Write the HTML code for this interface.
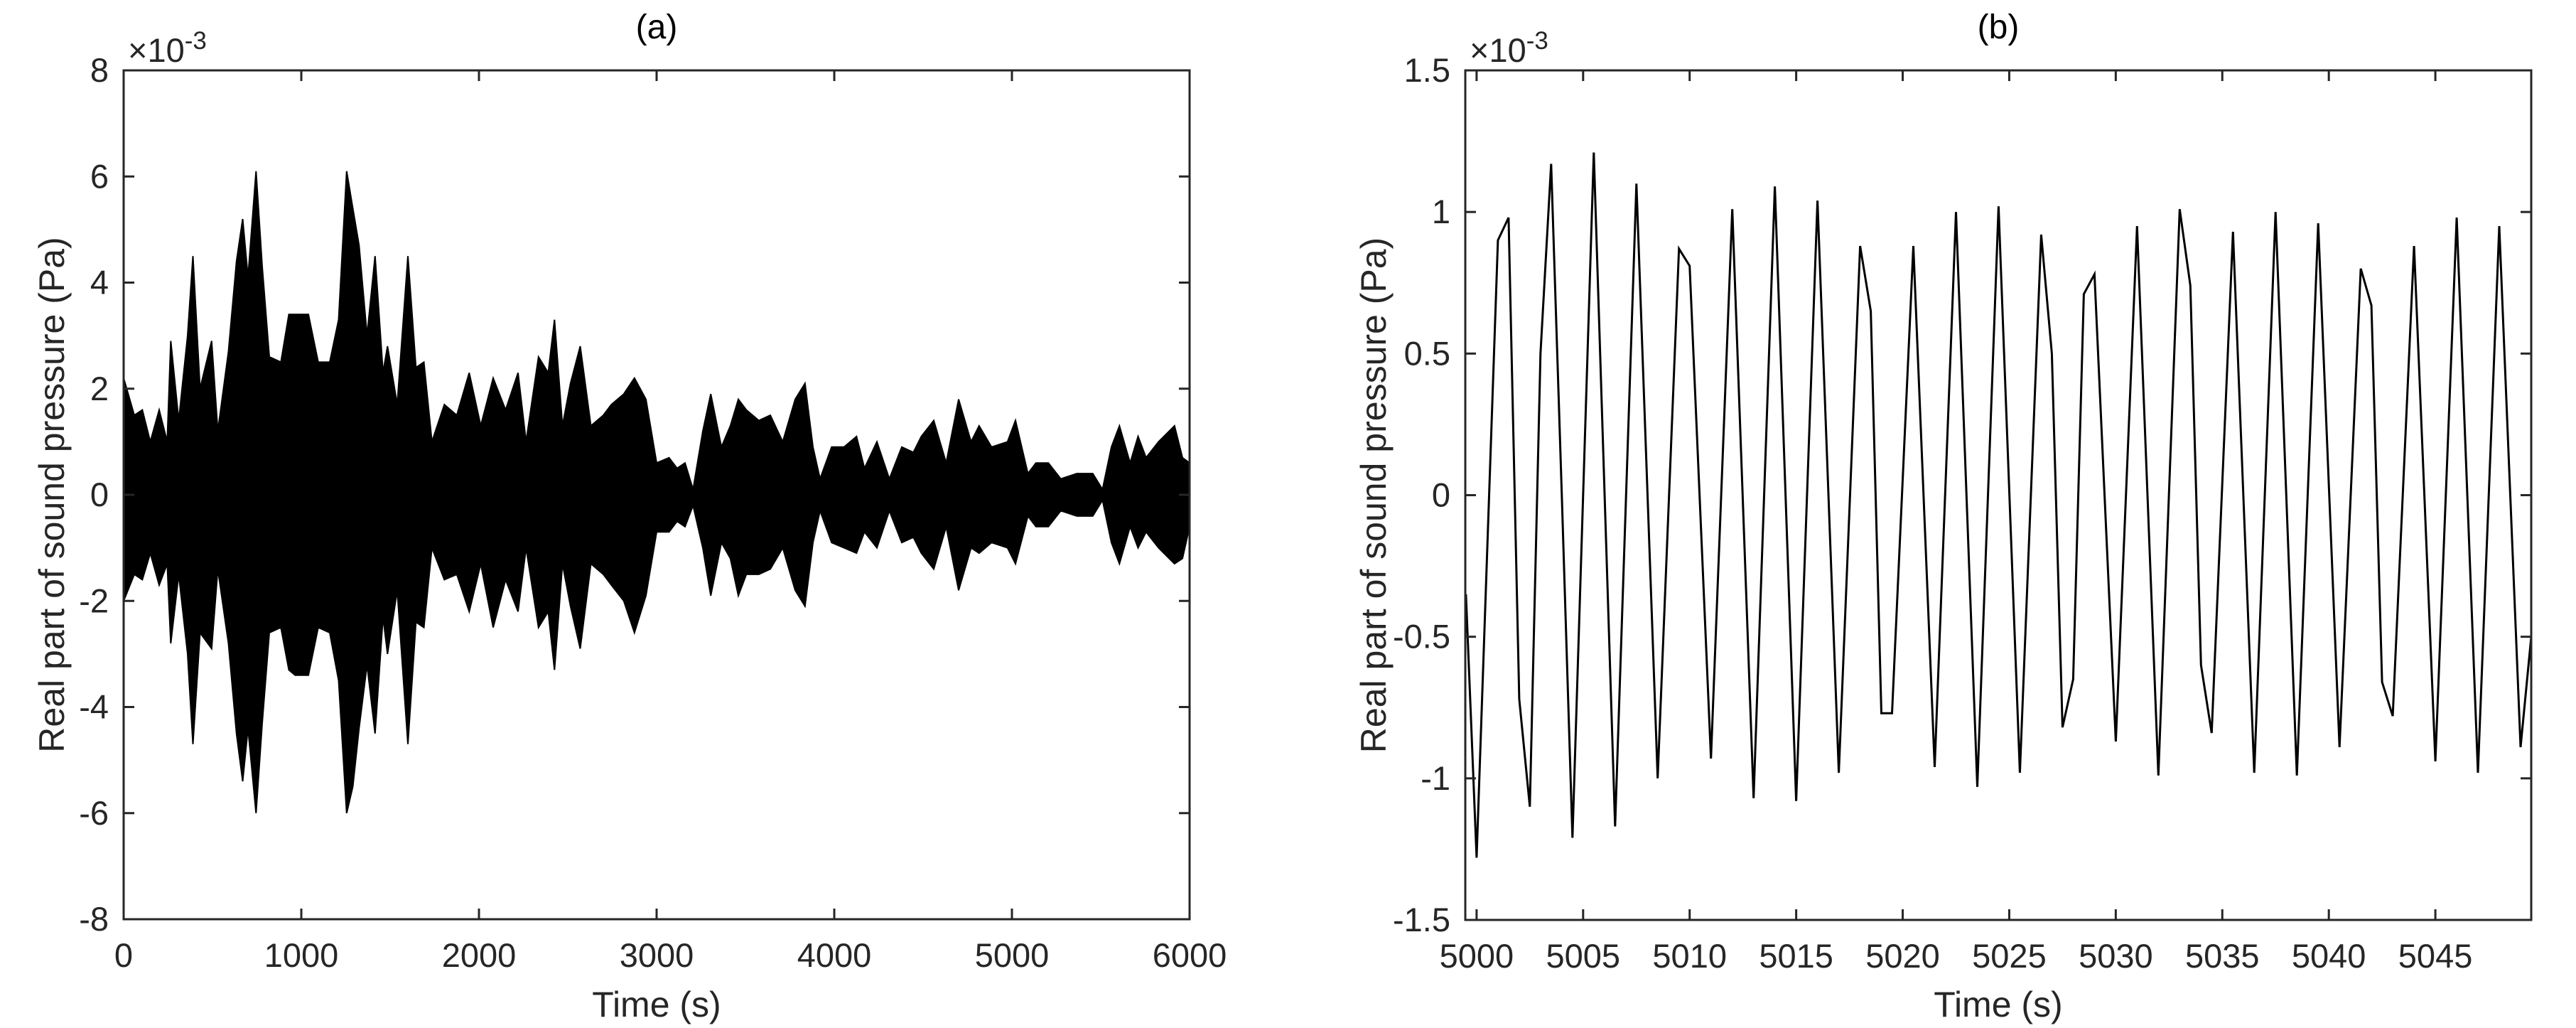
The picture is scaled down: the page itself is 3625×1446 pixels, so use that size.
<!DOCTYPE html>
<html><head><meta charset="utf-8"><style>
html,body{margin:0;padding:0;background:#fff;}
svg{display:block;font-family:"Liberation Sans",Arial,sans-serif;}
</style></head><body>
<svg id="fig" width="3625" height="1446" viewBox="0 0 3625 1446"></svg>
<script>
// ---- Panel (a) data: envelope of the dense signal ----
const envTimes = [0,60,105,150,200,245,265,310,360,390,430,495,530,590,635,670,700,745,780,820,885,930,965,1040,1095,1160,1210,1255,1290,1325,1370,1415,1460,1485,1540,1600,1645,1690,1735,1805,1875,1945,2010,2080,2150,2220,2265,2335,2390,2425,2470,2515,2570,2630,2700,2745,2815,2875,2940,3000,3070,3115,3160,3205,3260,3305,3365,3415,3460,3505,3575,3640,3710,3780,3835,3880,3920,3985,4055,4125,4170,4240,4310,4380,4445,4490,4560,4630,4700,4770,4815,4885,4975,5020,5090,5135,5205,5275,5365,5455,5510,5560,5605,5665,5710,5755,5825,5915,5960,6000];
const envUpper = [2.2,1.5,1.6,1.0,1.6,1.0,2.9,1.4,3.0,4.5,2.0,2.9,1.2,2.7,4.4,5.2,4.1,6.1,4.3,2.6,2.5,3.4,3.4,3.4,2.5,2.5,3.3,6.1,5.4,4.7,3.0,4.5,2.3,2.8,1.7,4.5,2.4,2.5,1.0,1.7,1.5,2.3,1.3,2.2,1.6,2.3,1.0,2.6,2.3,3.3,1.3,2.1,2.8,1.3,1.5,1.7,1.9,2.2,1.8,0.6,0.7,0.5,0.6,0.1,1.2,1.9,0.9,1.3,1.8,1.6,1.4,1.5,1.0,1.8,2.1,0.9,0.3,0.9,0.9,1.1,0.5,1.0,0.3,0.9,0.8,1.1,1.4,0.6,1.8,1.0,1.3,0.9,1.0,1.4,0.4,0.6,0.6,0.3,0.4,0.4,0.1,0.9,1.3,0.6,1.1,0.7,1.0,1.3,0.7,0.6];
const envLower = [-2.0,-1.5,-1.6,-1.1,-1.7,-1.3,-2.8,-1.5,-3.0,-4.7,-2.6,-2.9,-1.4,-2.8,-4.5,-5.4,-4.4,-6.0,-4.3,-2.6,-2.5,-3.3,-3.4,-3.4,-2.5,-2.6,-3.5,-6.0,-5.5,-4.4,-3.2,-4.5,-2.3,-3.0,-1.8,-4.7,-2.4,-2.5,-1.0,-1.6,-1.5,-2.2,-1.3,-2.5,-1.6,-2.2,-1.0,-2.5,-2.2,-3.3,-1.3,-2.1,-2.9,-1.3,-1.5,-1.7,-2.0,-2.6,-1.9,-0.7,-0.7,-0.5,-0.6,-0.2,-1.0,-1.9,-0.9,-1.2,-1.9,-1.5,-1.5,-1.4,-1.0,-1.8,-2.1,-0.9,-0.3,-0.9,-1.0,-1.1,-0.7,-1.0,-0.3,-0.9,-0.8,-1.1,-1.4,-0.6,-1.8,-1.0,-1.1,-0.9,-1.0,-1.3,-0.4,-0.6,-0.6,-0.3,-0.4,-0.4,-0.1,-0.9,-1.3,-0.6,-1.0,-0.7,-1.0,-1.3,-1.2,-0.6];
const aXTicks = [0,1000,2000,3000,4000,5000,6000];
const aYTicks = [-8,-6,-4,-2,0,2,4,6,8];

// ---- Panel (b) data ----
const bTimes = [4999.5,5000,5001,5001.5,5002,5002.5,5003,5003.5,5004,5004.5,5005.5,5006.5,5007.5,5008.5,5009.5,5010,5011,5012,5013,5014,5015,5016,5017,5018,5018.5,5019,5019.5,5020.5,5021.5,5022.5,5023.5,5024.5,5025.5,5026.5,5027,5027.5,5028,5028.5,5029,5030,5031,5032,5033,5033.5,5034,5034.5,5035.5,5036.5,5037.5,5038.5,5039.5,5040.5,5041.5,5042,5042.5,5043,5044,5045,5046,5047,5048,5049,5049.5];
const bValues = [-0.35,-1.28,0.90,0.98,-0.72,-1.10,0.50,1.17,0.0,-1.21,1.21,-1.17,1.10,-1.00,0.87,0.81,-0.93,1.01,-1.07,1.09,-1.08,1.04,-0.98,0.88,0.65,-0.77,-0.77,0.88,-0.96,1.00,-1.03,1.02,-0.98,0.92,0.50,-0.82,-0.65,0.71,0.78,-0.87,0.95,-0.99,1.01,0.74,-0.60,-0.84,0.93,-0.98,1.00,-0.99,0.96,-0.89,0.80,0.67,-0.66,-0.78,0.88,-0.94,0.98,-0.98,0.95,-0.89,-0.50];
const bXTicks = [5000,5005,5010,5015,5020,5025,5030,5035,5040,5045];
const bYTicks = [-1.5,-1,-0.5,0,0.5,1,1.5];

const NS = "http://www.w3.org/2000/svg";
const svg = document.getElementById('fig');
function mk(tag, attrs, parent){
  const e = document.createElementNS(NS, tag);
  for (const k in attrs) e.setAttribute(k, attrs[k]);
  (parent||svg).appendChild(e);
  return e;
}
const AX = "#262626";

function panel(cfg){
  const g = mk('g', {});
  
  
  const {L,R,T,B,xmin,xmax,ymin,ymax} = cfg;
  const sx = v => L + (v - xmin) / (xmax - xmin) * (R - L);
  const sy = v => B - (v - ymin) / (ymax - ymin) * (B - T);
  cfg.draw(g, sx, sy);
  const box = mk('rect', {x:L, y:T, width:R-L, height:B-T, fill:'none', stroke:AX, 'stroke-width':3}, g);
  
  
  const tl = 15;
  cfg.xTicks.forEach(v => {
    const x = sx(v);
    mk('line', {x1:x, y1:B, x2:x, y2:B-tl, stroke:AX, 'stroke-width':3}, g);
    mk('line', {x1:x, y1:T, x2:x, y2:T+tl, stroke:AX, 'stroke-width':3}, g);
    const t = mk('text', {x:x, y:B+67, 'text-anchor':'middle', 'font-size':47, fill:AX}, g);
    t.textContent = String(v);
    
    
  });
  cfg.yTicks.forEach(v => {
    const y = sy(v);
    mk('line', {x1:L, y1:y, x2:L+tl, y2:y, stroke:AX, 'stroke-width':3}, g);
    mk('line', {x1:R, y1:y, x2:R-tl, y2:y, stroke:AX, 'stroke-width':3}, g);
    const t = mk('text', {x:L-21, y:y+16, 'text-anchor':'end', 'font-size':47, fill:AX}, g);
    t.textContent = String(v);
    
    
  });
  const ex = mk('text', {x:L+6, y:T-12, 'font-size':47, fill:AX}, g);
  
  
  ex.innerHTML = '×10<tspan dy="-18" font-size="35">-3</tspan>';
  const ti = mk('text', {x:(L+R)/2, y:54, 'text-anchor':'middle', 'font-size':48, fill:'#000'}, g);
  ti.textContent = cfg.title;
  
  
  const xl = mk('text', {x:(L+R)/2, y:1430, 'text-anchor':'middle', 'font-size':50, fill:AX}, g);
  xl.textContent = 'Time (s)';
  
  
  const yx = cfg.ylx, yy = (T+B)/2;
  const yl = mk('text', {x:yx, y:yy, 'text-anchor':'middle', 'font-size':50, fill:AX, transform:`rotate(-90 ${yx} ${yy})`}, g);
  yl.textContent = 'Real part of sound pressure (Pa)';
  
  
}

panel({name:'panel-a', title:'(a)', L:174, R:1674, T:99, B:1293, xmin:0, xmax:6000, ymin:-8, ymax:8,
  xTicks:aXTicks, yTicks:aYTicks, ylx:90,
  draw:(g, sx, sy) => {
    let pts = [];
    for (let i=0;i<envTimes.length;i++) pts.push(sx(envTimes[i]).toFixed(1)+','+sy(envUpper[i]).toFixed(1));
    for (let i=envTimes.length-1;i>=0;i--) pts.push(sx(envTimes[i]).toFixed(1)+','+sy(envLower[i]).toFixed(1));
    const p = mk('polygon', {points:pts.join(' '), fill:'#000', stroke:'#000', 'stroke-width':2, 'stroke-linejoin':'miter'}, g);
    
    
  }});

panel({name:'panel-b', title:'(b)', L:2062, R:3562, T:99, B:1294, xmin:4999.47, xmax:5049.5, ymin:-1.5, ymax:1.5,
  xTicks:bXTicks, yTicks:bYTicks, ylx:1950,
  draw:(g, sx, sy) => {
    const pts = bTimes.map((t,i) => sx(t).toFixed(1)+','+sy(bValues[i]).toFixed(1)).join(' ');
    const p = mk('polyline', {points:pts, fill:'none', stroke:'#000', 'stroke-width':3, 'stroke-linejoin':'miter'}, g);
    
    
  }});
</script>
</body></html>
